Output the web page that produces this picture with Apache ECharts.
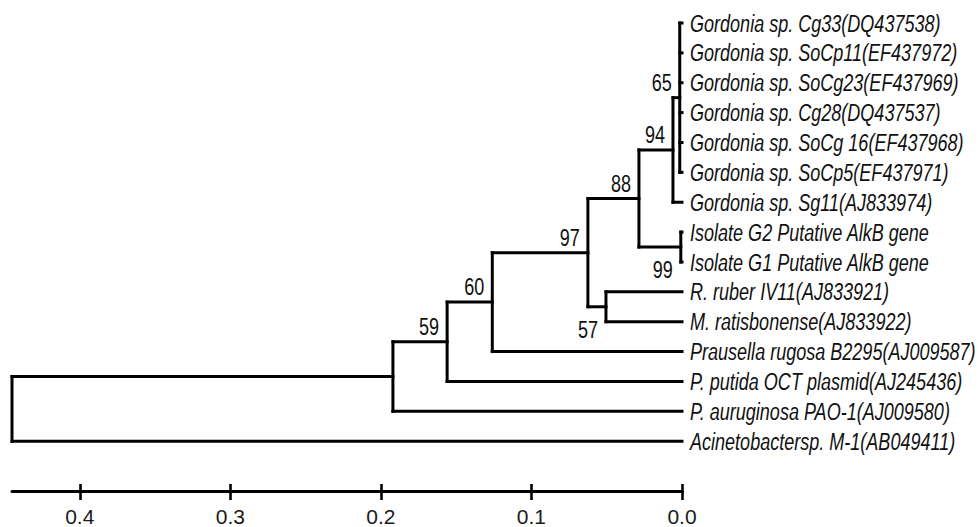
<!DOCTYPE html>
<html><head><meta charset="utf-8">
<script src="https://cdn.jsdelivr.net/npm/echarts@6/dist/echarts.min.js"></script>
<style>html,body{margin:0;padding:0;background:#fff}#chart{width:980px;height:527px}</style>
</head><body><div id="chart"></div>
<script>
// ---- DATA ----
// Leaves, listed top to bottom
const leafNames = [
  'Gordonia sp. Cg33(DQ437538)',
  'Gordonia sp. SoCp11(EF437972)',
  'Gordonia sp. SoCg23(EF437969)',
  'Gordonia sp. Cg28(DQ437537)',
  'Gordonia sp. SoCg 16(EF437968)',
  'Gordonia sp. SoCp5(EF437971)',
  'Gordonia sp. Sg11(AJ833974)',
  'Isolate G2 Putative AlkB gene',
  'Isolate G1 Putative AlkB gene',
  'R. ruber IV11(AJ833921)',
  'M. ratisbonense(AJ833922)',
  'Prausella rugosa B2295(AJ009587)',
  'P. putida OCT plasmid(AJ245436)',
  'P. auruginosa PAO-1(AJ009580)',
  'Acinetobactersp. M-1(AB049411)'
];
const leafParents = ['I','I','I','I','I','I','H','G','G','F','F','C','B','A','root'];
// Internal nodes
const nodeIds      = ['root', 'A',   'B',   'C',   'D',    'E',    'F',    'G',    'H',   'I'];
const nodeParents  = [null,   'root','A',   'B',   'C',    'D',    'D',    'E',    'E',   'H'];
const nodeHeights  = [0.445,  0.192, 0.156, 0.126, 0.0625, 0.0286, 0.0505, 0.0008, 0.006, 0.0015];
const nodeSupport  = ['',     '',    '59',  '60',  '97',   '88',   '57',   '99',   '94',  '65'];
// Scale axis
const tickValues = [0, 0.1, 0.2, 0.3, 0.4];
const tickLabels = ['0.0', '0.1', '0.2', '0.3', '0.4'];

// ---- LAYOUT (derived from tree structure) ----
const heightOf = {}; nodeIds.forEach((id, i) => heightOf[id] = nodeHeights[i]);
const children = {}; nodeIds.forEach(id => children[id] = []);
leafNames.forEach((n, i) => children[leafParents[i]].push({leaf: i}));
nodeIds.forEach((id, i) => { if (nodeParents[i]) children[nodeParents[i]].push({node: id}); });
const nodeY = {};
function yOf(c) { return c.leaf !== undefined ? c.leaf : computeY(c.node); }
function computeY(id) {
  if (nodeY[id] !== undefined) return nodeY[id];
  const ys = children[id].map(yOf);
  nodeY[id] = (Math.min(...ys) + Math.max(...ys)) / 2;
  return nodeY[id];
}
nodeIds.forEach(computeY);

const segments = [];
leafNames.forEach((n, i) => segments.push([heightOf[leafParents[i]], i, 0, i]));
nodeIds.forEach((id, i) => {
  if (nodeParents[i]) segments.push([heightOf[nodeParents[i]], nodeY[id], heightOf[id], nodeY[id]]);
  const ys = children[id].map(yOf);
  segments.push([heightOf[id], Math.min(...ys), heightOf[id], Math.max(...ys)]);
});
const leafPoints = leafNames.map((n, i) => [0, i]);
const supportPoints = [];
nodeIds.forEach((id, i) => { if (nodeSupport[i]) supportPoints.push([heightOf[id], nodeY[id], i]); });
const belowLabels = ['F', 'G'];

const FONT = '"Liberation Sans", Arial, sans-serif';
const chart = echarts.init(document.getElementById('chart'), null, {renderer: 'svg'});
const gridBox = {left: 12, right: 298, top: 23, bottom: 34, containLabel: false};
const axisCommon = {type: 'value', inverse: true, min: 0, max: 0.445, interval: 0.1, position: 'bottom', splitLine: {show: false}};
const tickFmt = v => { const k = tickValues.findIndex(t => Math.abs(t - v) < 1e-9); return k >= 0 ? tickLabels[k] : ''; };
chart.setOption({
  animation: false,
  backgroundColor: '#fff',
  grid: [Object.assign({}, gridBox), Object.assign({}, gridBox)],
  xAxis: [
    Object.assign({}, axisCommon, {
      gridIndex: 0,
      axisLine: {onZero: false, lineStyle: {color: '#000', width: 3}},
      axisTick: {inside: false, length: 9, customValues: tickValues, lineStyle: {color: '#000', width: 2.6}},
      axisLabel: {customValues: tickValues, margin: 15, color: '#1a1a1a', fontSize: 21, fontFamily: FONT, formatter: tickFmt}
    }),
    Object.assign({}, axisCommon, {
      gridIndex: 1,
      axisLine: {show: false, onZero: false},
      axisTick: {inside: true, length: 9, customValues: tickValues, lineStyle: {color: '#000', width: 2.6}},
      axisLabel: {show: false}
    })
  ],
  yAxis: [
    {type: 'value', inverse: true, min: 0, max: 15.667, show: false, gridIndex: 0},
    {type: 'value', inverse: true, min: 0, max: 15.667, show: false, gridIndex: 1}
  ],
  series: [
    {
      type: 'custom', name: 'branches', xAxisIndex: 0, yAxisIndex: 0, data: segments, encode: {x: [0, 2], y: [1, 3]},
      renderItem: (params, api) => {
        const p1 = api.coord([api.value(0), api.value(1)]);
        const p2 = api.coord([api.value(2), api.value(3)]);
        return {type: 'line', shape: {x1: p1[0], y1: p1[1], x2: p2[0], y2: p2[1]},
          style: {stroke: '#000', lineWidth: 3, lineCap: 'square'}};
      }
    },
    {
      type: 'custom', name: 'leaves', xAxisIndex: 0, yAxisIndex: 0, data: leafPoints, encode: {x: 0, y: 1},
      renderItem: (params, api) => {
        const p = api.coord([api.value(0), api.value(1)]);
        return {type: 'text', x: p[0] + 8, y: p[1], scaleX: 0.82, scaleY: 1.12,
          style: {text: leafNames[params.dataIndex], font: 'italic 22px ' + FONT, fill: '#111', align: 'left', verticalAlign: 'middle'}};
      }
    },
    {
      type: 'custom', name: 'support', xAxisIndex: 0, yAxisIndex: 0, data: supportPoints, encode: {x: 0, y: 1},
      renderItem: (params, api) => {
        const p = api.coord([api.value(0), api.value(1)]);
        const idx = api.value(2);
        const below = belowLabels.indexOf(nodeIds[idx]) >= 0;
        return {type: 'text', x: p[0] - 8, y: p[1] + (below ? 23 : -15), scaleX: 0.82, scaleY: 1.05,
          style: {text: nodeSupport[idx], font: '22px ' + FONT, fill: '#111', align: 'right', verticalAlign: 'middle'}};
      }
    }
  ]
});
</script>
</body></html>
